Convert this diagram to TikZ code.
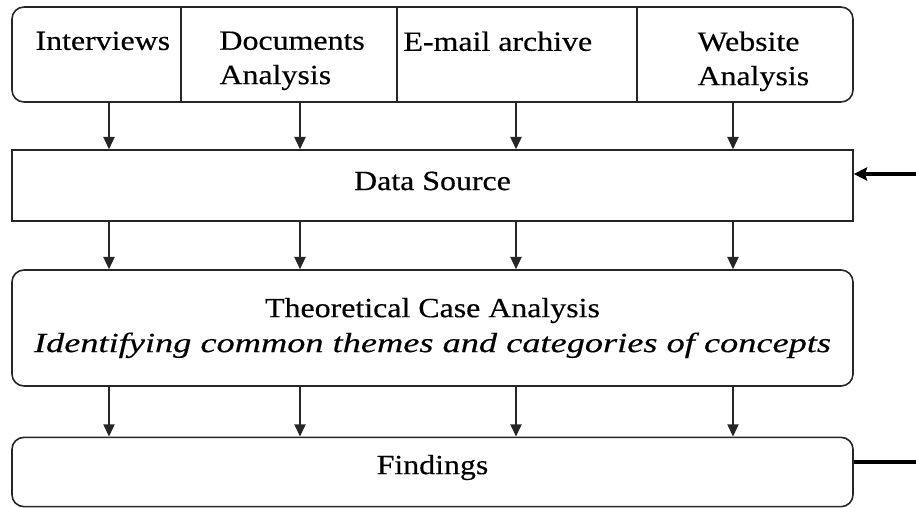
\documentclass[tikz,border=0pt]{standalone}
\usepackage{fontspec}
\setmainfont{Liberation Serif}[FakeStretch=1.15, FakeBold=0.4, ItalicFeatures={FakeStretch=1.31}]
\usetikzlibrary{arrows.meta}

\tikzset{
  box/.style={draw=black!85, line width=0.6pt, minimum width=315.4pt, inner sep=0pt, align=center, font=\fontsize{10.4}{13.1}\selectfont},
  rbox/.style={box, rounded corners=4.5pt},
  cell/.style={inner sep=0pt, align=left, anchor=north west, font=\fontsize{10.4}{12.9}\selectfont},
  flow/.style={line width=0.6pt, draw=black!85, -{Triangle[length=4.6pt,width=4.2pt]}},
  feed/.style={line width=1.4pt, -{Stealth[length=5pt,width=5pt,inset=0.8pt]}},
}

\begin{document}
\begin{tikzpicture}[x=0.375pt,y=-0.375pt]
\useasboundingbox (0,0) rectangle (916,508);
% boxes
\node[rbox, minimum height=35.6pt] (src) at (432.5,54.5) {};
\node[box, minimum height=26.6pt, text height=6.9pt, text depth=3.5pt] (data) at (432.5,185.5) {Data Source};
\node[rbox, minimum height=43.5pt] (theo) at (432.5,328) {Theoretical Case Analysis\\\textit{Identifying common themes and categories of concepts}};
\node[rbox, minimum height=26pt, text height=6.9pt, text depth=5.3pt] (find) at (432.5,472) {Findings};
% sources row
\foreach \x [count=\i] in {181,397,637} {
  \coordinate (d\i) at (\x,0);
  \draw[line width=0.6pt, draw=black!85] (src.north -| d\i) -- (src.south -| d\i);
}
\node[cell] (iv) at (35,31) {Interviews};
\node[cell] (doc) at (219,31) {Documents\\Analysis};
\node[cell] (mail) at (403,31) {E-mail archive};
\node[cell] (web) at (697,31) {Website\\Analysis};
% arrows
\foreach \x [count=\i] in {109,300,516,733} {
  \coordinate (a\i) at (\x,0);
  \draw[flow] (src.south -| a\i) -- (data.north -| a\i);
  \draw[flow] (data.south -| a\i) -- (theo.north -| a\i);
  \draw[flow] (theo.south -| a\i) -- (find.north -| a\i);
}
\coordinate (fb) at (916,174);
\draw[feed] (fb) -- (data.east |- fb);
\coordinate (fo) at (916,462);
\draw[line width=1.4pt] (find.east |- fo) -- (fo);
\end{tikzpicture}
\end{document}
